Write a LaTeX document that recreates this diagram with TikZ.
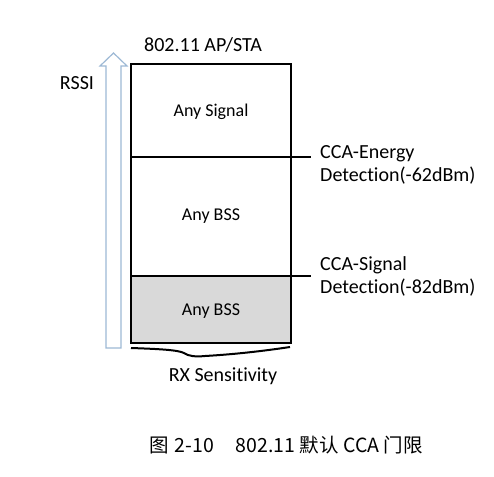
\documentclass[tikz,border=0pt]{standalone}
\usepackage{fontspec}
\setmainfont{Carlito}[Ligatures={NoCommon}]
\newfontfamily\cjk{Noto Sans CJK SC}
\usetikzlibrary{calc,positioning}
\definecolor{rssiblue}{HTML}{9DB9D5}
\definecolor{lowgray}{HTML}{D9D9D9}
\tikzset{
x=1pt, y=-1pt,
label/.style={inner sep=0pt, font=\fontsize{20}{23}\selectfont},
zone/.style={inner sep=0pt, font=\fontsize{18}{21}\selectfont},
level/.style={inner sep=0pt, anchor=west, align=left, font=\fontsize{20}{23}\selectfont},
frame/.style={line width=1.5pt, draw=black},
threshold/.style={line width=2.5pt, draw=black},
}

\begin{document}
\begin{tikzpicture}
\useasboundingbox (0,0) rectangle (494,476);
% box with the three zones
\coordinate (tl) at (131,64);
\coordinate (br) at (291,343);
\coordinate (ed) at (131,157);
\coordinate (sd) at (131,276);
\fill[lowgray] (sd) rectangle (br);
\draw[frame] (tl) rectangle (br);
\draw[threshold] (ed) -- ++(180,0) coordinate (edend);
\draw[threshold] (sd) -- ++(180,0) coordinate (sdend);
% rssi arrow
\draw[rssiblue, line width=1.2pt, fill=white]
(106,348) -- (106,66) -- (100,66) -- (113.5,53) -- (127,66) -- (121,66) -- (121,348) -- cycle;
\node[label] (rssi) at (77,83) {RSSI};
\node[label] (apsta) at (203,45) {802.11 AP/STA};
\node[zone] (anysig) at (211,112) {Any Signal};
\node[zone] (anybss) at (211,216) {Any BSS};
\node[zone] (lowbss) at (211,311) {Any BSS};
\node[level] (edtext) at ($(edend)+(9,8)$) {CCA-Energy\\Detection(-62dBm)};
\node[level] (sdtext) at ($(sdend)+(9,0)$) {CCA-Signal\\Detection(-82dBm)};
% brace under the box
\draw[line width=2pt] (131,348) .. controls (160,349) and (178,350) .. (184,353)
  .. controls (188,356) and (195,357) .. (205,356)
  .. controls (240,354) and (270,350) .. (290,347);
\node[label] (rxsens) at (223,376) {RX Sensitivity};
\node[inner sep=0pt, font=\cjk\fontsize{19.5}{22}\selectfont] (caption) at (286,445)
  {图\hspace{6pt}2-10\hspace{22pt}802.11 默认 CCA 门限};
\end{tikzpicture}
\end{document}
